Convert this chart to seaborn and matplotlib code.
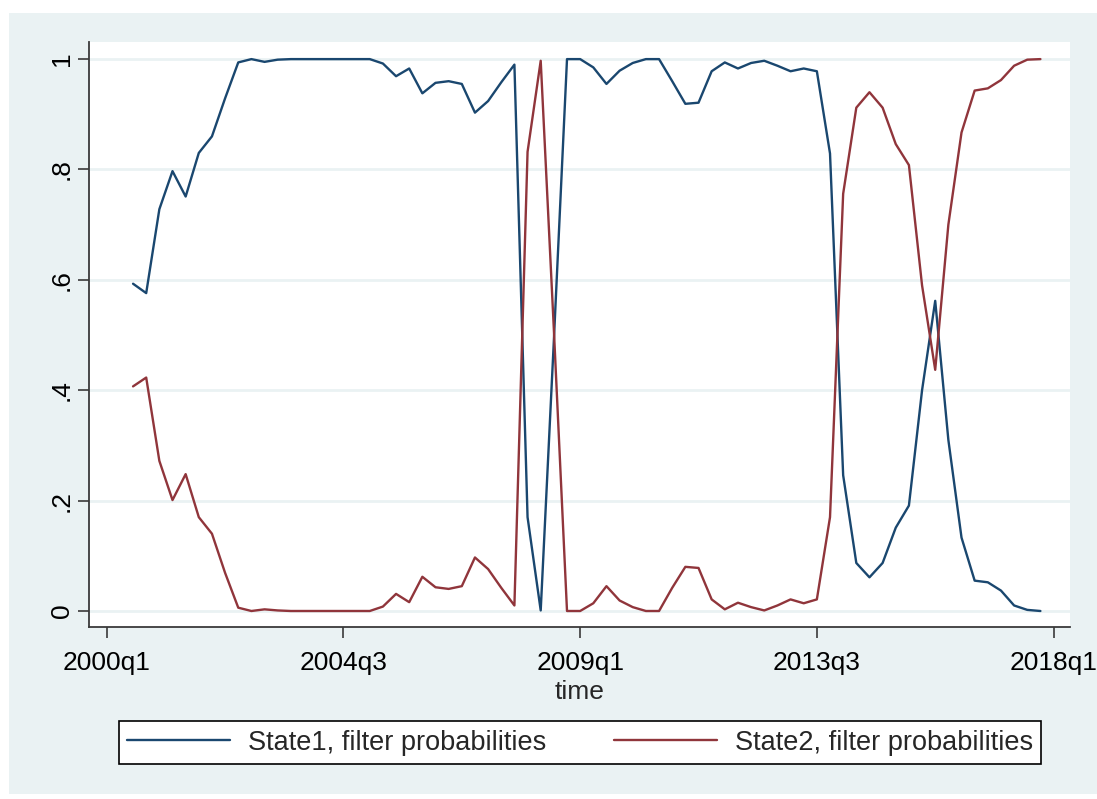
import matplotlib
matplotlib.use("Agg")
import matplotlib.pyplot as plt
from matplotlib.patches import Rectangle
import seaborn as sns
import pandas as pd
import numpy as np

# ---- data ----
start_quarter = 2          # 2000q3 (index counted from 2000q1 = 0)
state1 = [0.593, 0.576, 0.728, 0.797, 0.751, 0.830, 0.860, 0.929, 0.994, 1.000,
          0.995, 0.999, 1.000, 1.000, 1.000, 1.000, 1.000, 1.000, 1.000, 0.992,
          0.969, 0.983, 0.938, 0.957, 0.960, 0.955, 0.903, 0.924, 0.958, 0.990,
          0.170, 0.001, 0.490, 1.000, 1.000, 0.985, 0.955, 0.979, 0.993, 1.000,
          1.000, 0.960, 0.919, 0.921, 0.978, 0.994, 0.983, 0.993, 0.997, 0.988,
          0.978, 0.983, 0.978, 0.829, 0.246, 0.087, 0.061, 0.087, 0.151, 0.191,
          0.400, 0.562, 0.310, 0.133, 0.055, 0.052, 0.037, 0.010, 0.002, 0.000]
state2 = [0.407, 0.423, 0.272, 0.201, 0.248, 0.170, 0.140, 0.069, 0.006, 0.000,
          0.003, 0.001, 0.000, 0.000, 0.000, 0.000, 0.000, 0.000, 0.000, 0.008,
          0.031, 0.016, 0.062, 0.043, 0.040, 0.045, 0.097, 0.076, 0.042, 0.010,
          0.832, 0.997, 0.510, 0.000, 0.000, 0.014, 0.045, 0.019, 0.007, 0.000,
          0.000, 0.042, 0.080, 0.078, 0.021, 0.003, 0.015, 0.007, 0.001, 0.010,
          0.021, 0.014, 0.021, 0.170, 0.756, 0.912, 0.940, 0.912, 0.846, 0.808,
          0.590, 0.437, 0.700, 0.867, 0.943, 0.947, 0.962, 0.988, 0.999, 1.000]
series_names = ["State1, filter probabilities", "State2, filter probabilities"]
x_tick_labels = ["2000q1", "2004q3", "2009q1", "2013q3", "2018q1"]
y_ticks = [0, 0.2, 0.4, 0.6, 0.8, 1.0]
y_tick_labels = ["0", ".2", ".4", ".6", ".8", "1"]
x_label = "time"

# ---- build table ----
qidx = list(range(start_quarter, start_quarter + len(state1)))
df = pd.DataFrame({
    "time": qidx * 2,
    "prob": state1 + state2,
    "series": [series_names[0]] * len(state1) + [series_names[1]] * len(state2),
})

def q_to_idx(lbl):
    y, q = lbl.split("q")
    return (int(y) - 2000) * 4 + int(q) - 1

x_tick_pos = [q_to_idx(l) for l in x_tick_labels]

# ---- style ----
sns.set_theme(style="white")
plt.rcParams["font.family"] = ["Liberation Sans", "DejaVu Sans"]
bg = "#EAF2F3"
navy = "#1a476f"
maroon = "#90353b"
axis_col = "#3a3a3a"

fig = plt.figure(figsize=(10.97, 7.99), dpi=100)
fig.patch.set_facecolor("white")
fig.patches.append(Rectangle((9 / 1097, 5 / 799), 1 - 9 / 1097, (794 - 13) / 799,
                             transform=fig.transFigure, facecolor=bg,
                             edgecolor="none", zorder=-10))

ax = fig.add_axes([89 / 1097, 1 - 627 / 799, (1070 - 89) / 1097, (627 - 42) / 799])
ax.set_zorder(2)
ax.set_facecolor("white")

sns.lineplot(data=df, x="time", y="prob", hue="series",
             palette=[navy, maroon], linewidth=1.7, ax=ax, legend=True)

ax.set_xlim(-1.35, 73.25)
ax.set_ylim(-0.029, 1.031)
ax.set_xticks(x_tick_pos)
ax.set_xticklabels(x_tick_labels)
ax.set_yticks(y_ticks)
ax.set_yticklabels(y_tick_labels, rotation=90, va="center")
ax.yaxis.grid(True, color=bg, linewidth=2)
ax.xaxis.grid(False)
ax.set_axisbelow(True)

for s in ["top", "right"]:
    ax.spines[s].set_visible(False)
for s in ["left", "bottom"]:
    ax.spines[s].set_color(axis_col)
    ax.spines[s].set_linewidth(1.3)

ax.tick_params(axis="both", which="major", direction="out", length=8,
               width=1.2, color=axis_col, labelsize=19, labelcolor="black",
               left=True, bottom=True)
ax.tick_params(axis="y", pad=3)
ax.tick_params(axis="x", pad=9)

ax.set_xlabel(x_label, fontsize=19, labelpad=4)
ax.set_ylabel("")

handles, labels = ax.get_legend_handles_labels()
ax.legend_.remove()
leg = fig.legend(handles, labels, loc="center", ncol=2, mode="expand",
                 bbox_to_anchor=(119 / 1097, 1 - 767 / 799, (1041 - 119) / 1097, 49 / 799),
                 fontsize=19.5, frameon=True, fancybox=False, edgecolor="black",
                 framealpha=1.0,
                 handlelength=3.8, handletextpad=0.66, borderpad=0.3,
                 columnspacing=0.5, borderaxespad=0)
leg.set_zorder(5)
leg.get_frame().set_linewidth(1.2)
leg.get_frame().set_facecolor("white")
for line in leg.get_lines():
    line.set_linewidth(1.7)

fig.savefig("out.png", dpi=100, facecolor=fig.get_facecolor())
